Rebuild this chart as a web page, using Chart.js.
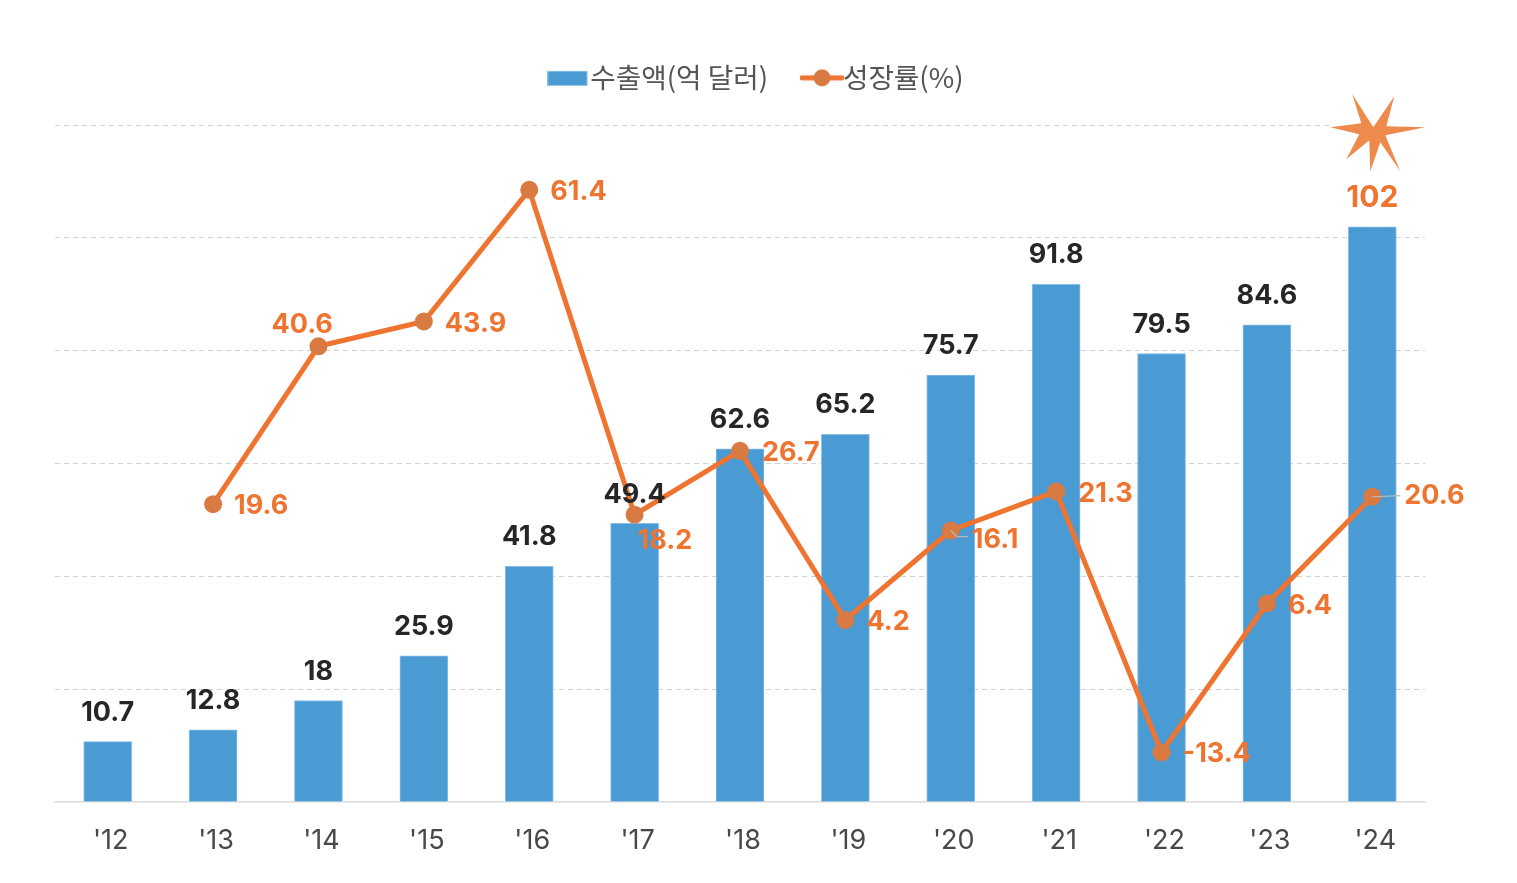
<!DOCTYPE html>
<html><head><meta charset="utf-8">
<style>html,body{margin:0;padding:0;background:#fff;overflow:hidden}#w{width:1517px;height:883px;position:relative}canvas{display:block}</style>
<script src="https://cdn.jsdelivr.net/npm/chart.js@4"></script>
</head><body><div id="w"><canvas id="c" width="1517" height="883"></canvas></div>
<script>
const categories = ["'12","'13","'14","'15","'16","'17","'18","'19","'20","'21","'22","'23","'24"];
const exportsValue = [10.7,12.8,18,25.9,41.8,49.4,62.6,65.2,75.7,91.8,79.5,84.6,102];
const growthRate = [null,19.6,40.6,43.9,61.4,18.2,26.7,4.2,16.1,21.3,-13.4,6.4,20.6];
const seriesNames = ['수출액(억 달러)','성장률(%)'];

const BLUE='#4a9ad4', ORANGE='#ee7430', DOT='#d97a42', TXT='#262626';
const valueFont='700 27px Inter', peakFont='700 30px Inter';
// label placement relative to each line point [dx, dy]
const growthLabelOffset=[null,[21,2],[-47,-21],[21,2],[21,2],[3,26],[22,2],[21,2],[21,9],[22,2],[21,2],[21,2],[32,-1]];
const leaderIndexes=[8,12];
// star outline relative to the '24 bar centre / top gridline
const starShape=[[-20,-31],[1,2],[22,-29],[14,1],[53,2],[13,10],[28,46],[8,17],[-2,46],[-3,15],[-26,34],[-13,9],[-42,2],[-11,-2]];

function legendSwatch(kind){
  const k=document.createElement('canvas');k.width=44;k.height=20;const g=k.getContext('2d');
  if(kind===0){g.fillStyle=BLUE;g.fillRect(0,3,40,15);g.strokeStyle='#86bee6';g.lineWidth=1;g.strokeRect(.5,3.5,39,14);}
  else{g.strokeStyle=ORANGE;g.lineWidth=5;g.lineCap='round';g.beginPath();g.moveTo(2,10);g.lineTo(42,10);g.stroke();
    g.fillStyle=DOT;g.beginPath();g.arc(22,10,8.5,0,Math.PI*2);g.fill();}
  return k;
}
const annot={id:'annot',
  beforeLayout(ch){
    const l=ch.legend;
    if(l&&!l._extended){const fit=l.fit.bind(l);l.fit=()=>{fit();l.height+=23.5;};l._extended=true;}
  },
  afterDatasetsDraw(ch){
    const {ctx,scales}=ch,x=scales.x,y=scales.y,y2=scales.y2;
    ctx.save();
    // leader lines
    ctx.strokeStyle='#b9b9b9';ctx.lineWidth=1.2;
    leaderIndexes.forEach(i=>{const px=x.getPixelForValue(i),py=y2.getPixelForValue(growthRate[i]),o=growthLabelOffset[i];
      ctx.beginPath();ctx.moveTo(px,py);ctx.lineTo(px+6,py+(o[1]>0?6:0));ctx.lineTo(px+o[0]-4,py+(o[1]>0?6:-1));ctx.stroke();});
    ctx.textBaseline='middle';
    ctx.textAlign='center';
    exportsValue.forEach((v,i)=>{const last=i===exportsValue.length-1;ctx.font=last?peakFont:valueFont;ctx.fillStyle=last?ORANGE:TXT;
      ctx.fillText(String(v),x.getPixelForValue(i),y.getPixelForValue(v)-29);});
    ctx.font=valueFont;ctx.textAlign='left';ctx.fillStyle=ORANGE;
    growthRate.forEach((v,i)=>{if(v==null)return;const o=growthLabelOffset[i];
      ctx.fillText(String(v),x.getPixelForValue(i)+o[0],y2.getPixelForValue(v)+o[1]);});
    // star badge with its white backing
    const cx=x.getPixelForValue(categories.length-1),cy=y.getPixelForValue(120);
    ctx.fillStyle='#fff';ctx.fillRect(cx-42,cy-4,100,8);
    ctx.fillStyle='#ee8b4c';ctx.beginPath();
    starShape.forEach((p,i)=>{const X=cx+p[0],Y=cy+p[1];i?ctx.lineTo(X,Y):ctx.moveTo(X,Y);});
    ctx.closePath();ctx.fill();
    ctx.restore();
  }};
new Chart(document.getElementById('c'),{
  data:{labels:categories,datasets:[
    {type:'bar',label:seriesNames[0],data:exportsValue,yAxisID:'y',order:1,backgroundColor:BLUE,borderColor:'#86bee6',borderWidth:1,barThickness:48},
    {type:'line',label:seriesNames[1],data:growthRate,yAxisID:'y2',order:0,borderColor:ORANGE,borderWidth:5,tension:0,spanGaps:false,
      pointRadius:9,pointHoverRadius:9,pointBackgroundColor:DOT,pointBorderColor:DOT,pointBorderWidth:0}
  ]},
  options:{responsive:false,animation:false,events:[],
    layout:{padding:{left:9,right:0,top:17,bottom:0}},
    plugins:{tooltip:{enabled:false},
      legend:{display:true,position:'top',
        labels:{usePointStyle:true,pointStyleWidth:14,padding:47,color:'#555',font:{family:"'Noto Sans CJK KR'",size:27.7},
          sort:(a,b)=>a.datasetIndex-b.datasetIndex,
          generateLabels(ch){return Chart.defaults.plugins.legend.labels.generateLabels(ch).map(l=>({...l,pointStyle:legendSwatch(l.datasetIndex)}));}}}},
    scales:{
      x:{grid:{display:false},border:{display:true,color:'#dcdcdc',width:1.5},
        ticks:{color:'#484848',font:{family:'Inter',size:27},padding:15,labelOffset:3,maxRotation:0,autoSkip:false},
        afterFit(s){s.height=81;}},
      y:{position:'left',min:0,max:120,ticks:{stepSize:20,display:false},
        grid:{color:c=>c.tick.value===0?'transparent':'#d2d2d2',lineWidth:1,drawTicks:false},border:{display:false,dash:[5,4]},
        afterFit(s){s.width=46;}},
      y2:{position:'right',min:-20,max:70,ticks:{display:false},grid:{display:false},border:{display:false},
        afterFit(s){s.width=92;}}
    }},
  plugins:[annot]
});
</script></body></html>
